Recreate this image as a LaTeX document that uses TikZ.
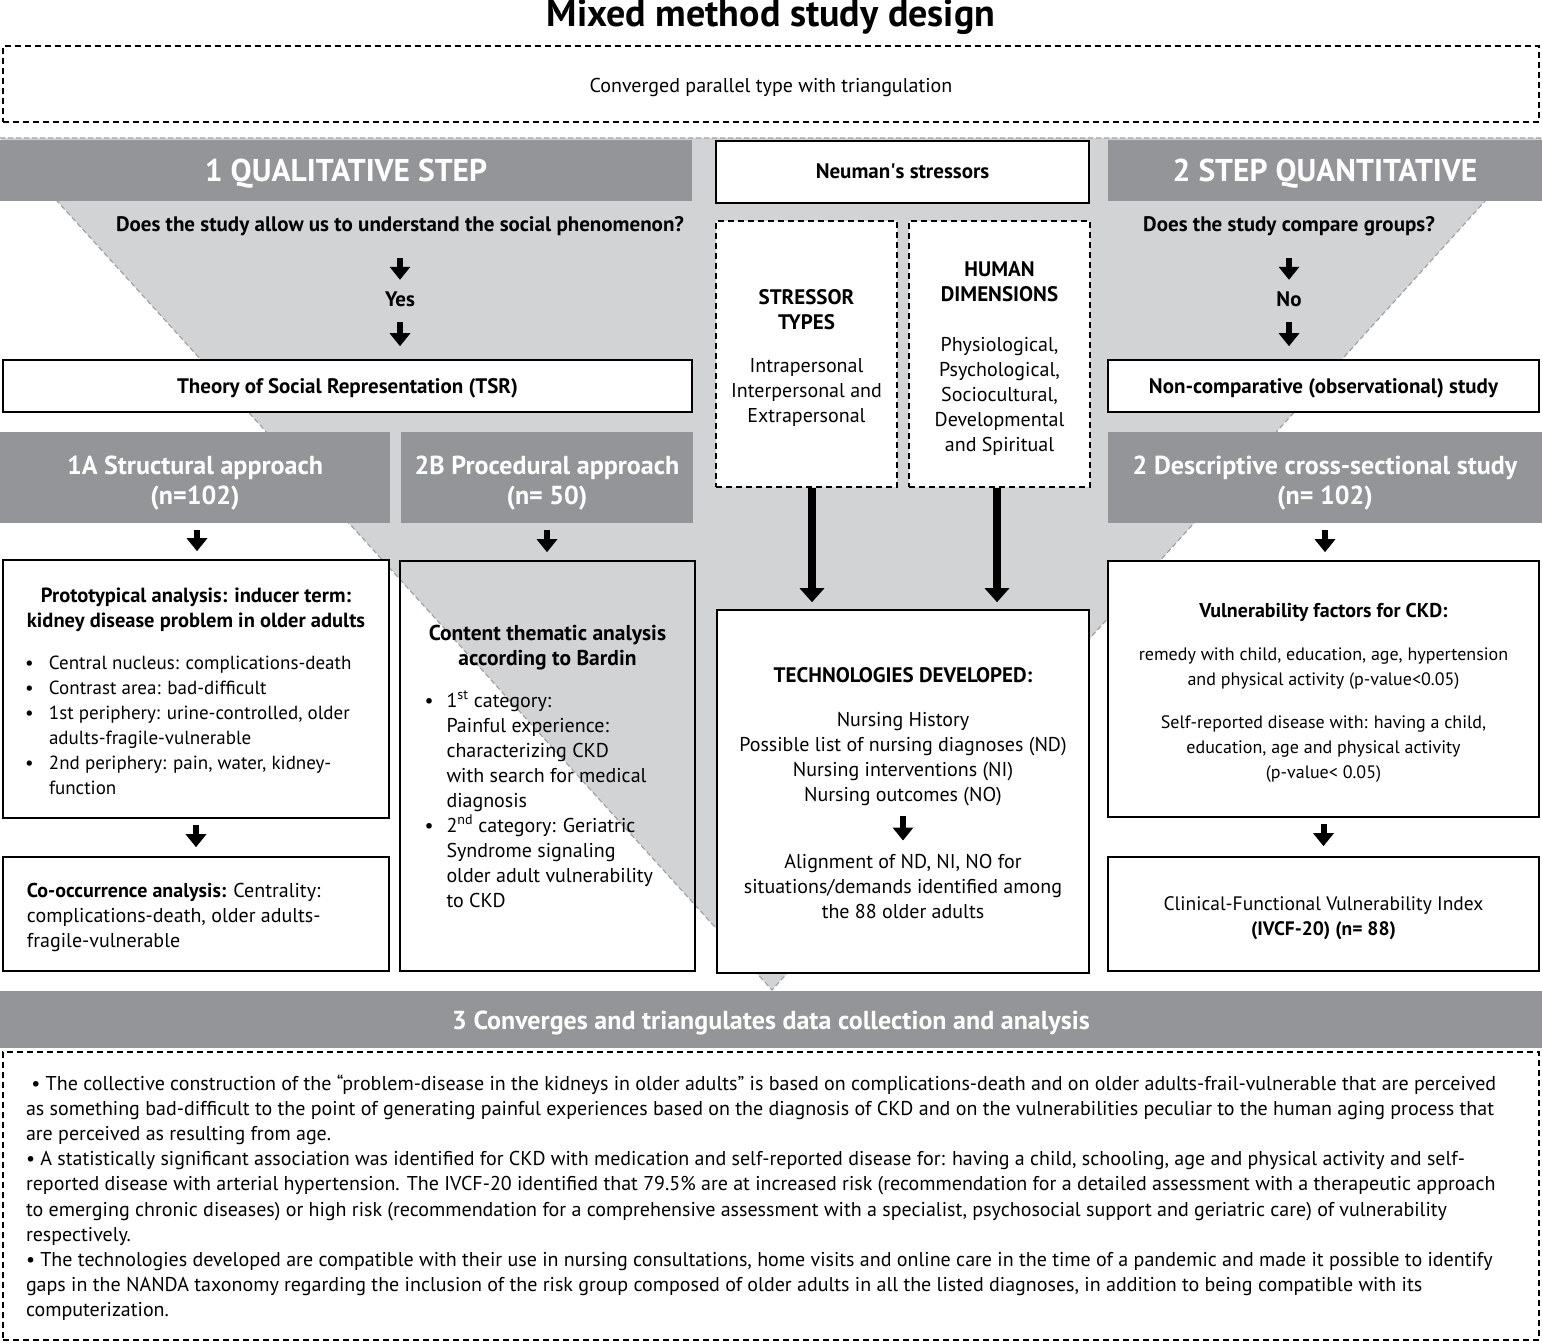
\documentclass[tikz,border=0pt]{standalone}
\usepackage{fontspec}
\setmainfont{PT Sans}
\usetikzlibrary{arrows.meta,positioning}

\definecolor{headgray}{RGB}{147,149,152}
\definecolor{trigray}{RGB}{209,211,212}
\definecolor{edgegray}{RGB}{160,162,165}

\newcommand{\fs}[1]{\fontsize{#1}{25}\selectfont}
\newcommand{\lift}[1]{\rule{0pt}{#1}}
\newcommand{\bul}{\makebox[24pt][l]{\textbullet}}
\newcommand{\hang}{\hspace*{24pt}}

\tikzstyle{stephead}=[rectangle, fill=headgray, text=white, inner sep=0pt, text height=27pt, text depth=4pt, font=\bfseries\fontsize{31.5}{34}\selectfont]
\tikzstyle{subhead}=[rectangle, fill=headgray, text=white, inner sep=0pt, align=center, font=\bfseries\fontsize{26}{30}\selectfont]
\tikzstyle{solidbox}=[rectangle, draw, line width=1.6pt, fill=white, inner sep=0pt, align=center, font=\fs{19}]
\tikzstyle{boldbox}=[solidbox, text height=18pt, text depth=4pt, font=\bfseries\fs{21}]
\tikzstyle{dashbox}=[rectangle, draw, line width=1.3pt, dash pattern=on 6pt off 4pt, inner sep=0pt, align=center, font=\fs{20}]
\tikzstyle{qlabel}=[inner sep=0pt, text height=13pt, text depth=4pt, anchor=base, font=\bfseries\fs{21}]
\tikzstyle{plain}=[inner sep=0pt, align=center, font=\fs{20}]
\tikzstyle{stub}=[line width=6pt, -{Triangle[width=20pt,length=13pt]}]
\tikzstyle{longstub}=[line width=8pt, -{Triangle[width=24pt,length=14pt]}]

\begin{document}
\begin{tikzpicture}[x=1pt,y=-1pt]
\useasboundingbox (0,0) rectangle (1542,1343);

% funnel behind both steps
\fill[trigray] (0,138) -- (1542,138) -- (772,990) -- cycle;
\draw[edgegray, line width=1.2pt, dash pattern=on 5pt off 3pt] (0,138) -- (1542,138) -- (772,990) -- cycle;

\node[inner sep=0pt, anchor=base, font=\bfseries\fontsize{38}{40}\selectfont] (title) at (771,27) {Mixed method study design};
\node[dashbox, text height=19pt, text depth=2pt, minimum width=1536pt, minimum height=76pt] (design) at (771,84) {Converged parallel type with triangulation};

% headers
\node[stephead, minimum width=692pt, minimum height=61pt] (qualhead) at (346,170.5) {1 QUALITATIVE STEP};
\node[boldbox, minimum width=373pt, minimum height=62pt] (neuman) at (902.5,172) {Neuman\textquotesingle s stressors};
\node[stephead, minimum width=434pt, minimum height=61pt] (quanthead) at (1325,170.5) {2 STEP QUANTITATIVE};

% qualitative side
\node[qlabel] (qualq) at (400,232) {Does the study allow us to understand the social phenomenon?};
\node[qlabel] (yes) at (400,306) {Yes};
\node[boldbox, minimum width=689pt, minimum height=52pt] (tsr) at (347.5,386) {Theory of Social Representation (TSR)};

\node[subhead, minimum width=390pt, minimum height=91pt] (struct) at (195,477.5) {\lift{29pt}1A Structural approach\\(n=102)};
\node[subhead, minimum width=292pt, minimum height=91pt] (proc) at (547,477.5) {\lift{29pt}2B Procedural approach\\(n= 50)};

\node[solidbox, align=left, minimum width=386pt, minimum height=258pt] (proto) at (196,689) {%
\makebox[342pt][c]{\lift{19pt}\fs{20.5}\bfseries Prototypical analysis: inducer term:}\\
\makebox[342pt][c]{\fs{20.5}\bfseries kidney disease problem in older adults}\\[17pt]
\bul Central nucleus: complications-death\\
\bul Contrast area: bad-difficult\\
\bul 1st periphery: urine-controlled, older\\
\hang adults-fragile-vulnerable\\
\bul 2nd periphery: pain, water, kidney-\\
\hang function};

\node[solidbox, align=left, minimum width=386pt, minimum height=114pt, font=\fs{20}] (cooc) at (196,914) {%
\makebox[338pt][l]{\lift{22pt}\textbf{Co-occurrence analysis:} Centrality:}\\
complications-death, older adults-\\
fragile-vulnerable};

\node[solidbox, fill=none, align=left, minimum width=295pt, minimum height=410pt, font=\fs{20}] (content) at (547.5,766) {%
\makebox[246pt][c]{\fs{21.5}\bfseries Content thematic analysis}\\
\makebox[246pt][c]{\fs{21.5}\bfseries according to Bardin}\\[17pt]
\makebox[22pt][l]{\textbullet}1\textsuperscript{st} category:\\
\hspace*{22pt}Painful experience:\\
\hspace*{22pt}characterizing CKD\\
\hspace*{22pt}with search for medical\\
\hspace*{22pt}diagnosis\\
\makebox[22pt][l]{\textbullet}2\textsuperscript{nd} category: Geriatric\\
\hspace*{22pt}Syndrome signaling\\
\hspace*{22pt}older adult vulnerability\\
\hspace*{22pt}to CKD};

% Neuman's stressors
\node[dashbox, fill=white, minimum width=181pt, minimum height=266pt] (stypes) at (806.5,354) {%
\lift{23pt}\textbf{\fs{21}STRESSOR}\\\textbf{\fs{21}TYPES}\\[18pt]
Intrapersonal\\Interpersonal and\\Extrapersonal};
\node[dashbox, fill=white, minimum width=181pt, minimum height=266pt] (hdims) at (999.5,354) {%
\lift{23pt}\textbf{\fs{21}HUMAN}\\\textbf{\fs{21}DIMENSIONS}\\[25pt]
Physiological,\\Psychological,\\Sociocultural,\\Developmental\\and Spiritual};

\node[solidbox, minimum width=372pt, minimum height=363pt] (techbox) at (903,791.5) {};
\node[qlabel] (techhead) at (903,682) {TECHNOLOGIES DEVELOPED:};
\node[plain] (techlist) at (903,759.5) {Nursing History\\Possible list of nursing diagnoses (ND)\\Nursing interventions (NI)\\Nursing outcomes (NO)};
\node[plain] (techalign) at (903,886) {Alignment of ND, NI, NO for\\situations/demands identified among\\the 88 older adults};

% quantitative side
\node[qlabel] (quantq) at (1289,232) {Does the study compare groups?};
\node[qlabel] (no) at (1289,306) {No};
\node[boldbox, minimum width=431pt, minimum height=52pt] (noncomp) at (1323.5,386) {Non-comparative (observational) study};
\node[subhead, minimum width=434pt, minimum height=91pt] (descr) at (1325,477.5) {\lift{29pt}2 Descriptive cross-sectional study\\(n= 102)};

\node[solidbox, minimum width=431pt, minimum height=256pt, font=\fs{18}] (vuln) at (1323.5,689) {%
\lift{21pt}\textbf{\fs{20}Vulnerability factors for CKD:}\\[18pt]
remedy with child, education, age, hypertension\\
and physical activity (p-value<0.05)\\[18pt]
Self-reported disease with: having a child,\\
education, age and physical activity\\
(p-value< 0.05)};
\node[solidbox, minimum width=431pt, minimum height=114pt, font=\fs{19.5}] (ivcf) at (1323.5,914) {%
\lift{22pt}Clinical-Functional Vulnerability Index\\\textbf{(IVCF-20) (n= 88)}};

% convergence
\node[stephead, minimum width=1542pt, minimum height=57pt, text height=23pt, font=\bfseries\fontsize{26}{28}\selectfont] (conv) at (771,1019.5) {3 Converges and triangulates data collection and analysis};
\node[dashbox, align=left, minimum width=1536pt, minimum height=288pt, font=\fontsize{20}{25.2}\selectfont] (results) at (771,1196) {%
\makebox[1490pt][l]{\lift{19pt}\ \textbullet\ The collective construction of the “problem-disease in the kidneys in older adults” is based on complications-death and on older adults-frail-vulnerable that are perceived}\\
as something bad-difficult to the point of generating painful experiences based on the diagnosis of CKD and on the vulnerabilities peculiar to the human aging process that\\
are perceived as resulting from age.\\
\textbullet\ A statistically significant association was identified for CKD with medication and self-reported disease for: having a child, schooling, age and physical activity and self-\\
reported disease with arterial hypertension. The IVCF-20 identified that 79.5\% are at increased risk (recommendation for a detailed assessment with a therapeutic approach\\
to emerging chronic diseases) or high risk (recommendation for a comprehensive assessment with a specialist, psychosocial support and geriatric care) of vulnerability\\
respectively.\\
\textbullet\ The technologies developed are compatible with their use in nursing consultations, home visits and online care in the time of a pandemic and made it possible to identify\\
gaps in the NANDA taxonomy regarding the inclusion of the risk group composed of older adults in all the listed diagnoses, in addition to being compatible with its\\
computerization.};

% arrows
\draw[stub, shorten <=22pt, shorten >=13pt] (qualq) -- (yes);
\draw[stub, shorten <=12pt, shorten >=13pt] (yes.south) -- (yes.south |- tsr.north);
\draw[stub, shorten <=22pt, shorten >=13pt] (quantq) -- (no);
\draw[stub, shorten <=12pt, shorten >=13pt] (no.south) -- (no.south |- noncomp.north);
\draw[stub, shorten <=7pt, shorten >=8pt] ([xshift=2pt]struct.south) -- ([xshift=2pt]struct.south |- proto.north);
\draw[stub, shorten <=7pt, shorten >=8pt] (proc.south) -- (proc.south |- content.north);
\draw[stub, shorten <=7pt, shorten >=8pt] (descr.south) -- (descr.south |- vuln.north);
\draw[stub, shorten <=6pt, shorten >=9pt] (proto) -- (cooc);
\draw[stub, shorten <=6pt, shorten >=10pt] (vuln) -- (ivcf);
\draw[stub, shorten <=9pt, shorten >=13pt] (techlist) -- (techalign);
\draw[longstub, shorten >=7pt] ([xshift=5.5pt]stypes.south) -- ([xshift=5.5pt]stypes.south |- techbox.north);
\draw[longstub, shorten >=7pt] ([xshift=-2.5pt]hdims.south) -- ([xshift=-2.5pt]hdims.south |- techbox.north);
\end{tikzpicture}
\end{document}
